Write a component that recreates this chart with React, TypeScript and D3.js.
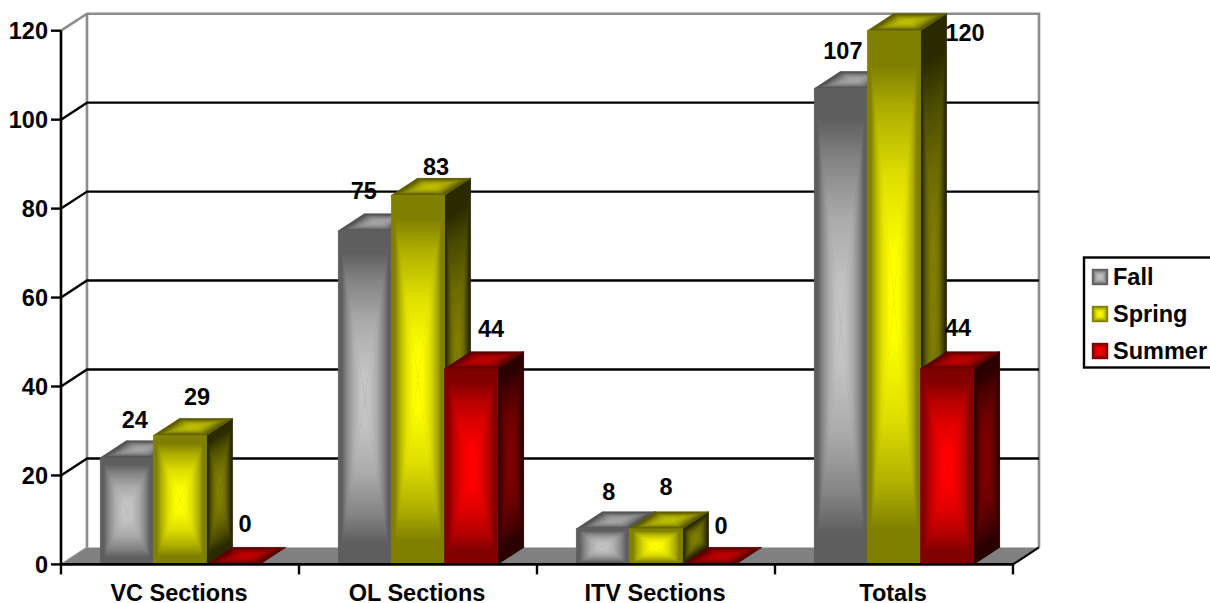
import React from "react";
import * as d3 from "d3";

const categories = ["VC Sections", "OL Sections", "ITV Sections", "Totals"];
const seriesNames = ["Fall", "Spring", "Summer"];
const fall = [24, 75, 8, 107];
const spring = [29, 83, 8, 120];
const summer = [0, 44, 0, 44];
const yTicks = [0, 20, 40, 60, 80, 100, 120];

const seriesValues = [fall, spring, summer];
const palette = [
  { front: ["#5e5e5e", "#c4c4c4"], side: ["#2a2a2a", "#808080"], top: ["#555555", "#a6a6a6"] },
  { front: ["#808000", "#ffff00"], side: ["#2a2a00", "#808000"], top: ["#5e5e00", "#c0c000"] },
  { front: ["#800000", "#ff0000"], side: ["#2a0000", "#800000"], top: ["#5e0000", "#c00000"] },
];
// hand-read nudges of each value label from the top-centre of its bar's top face
const labelNudge: [number, number][][] = [
  [[-5, -12.7], [-14, -14.5], [-7, -12], [-11, -12.4]],
  [[4, -13.5], [5, -3], [-3, -17], [58, 27.5]],
  [[-1, -15.5], [7, -14.5], [-1, -13.5], [-2, -15.5]],
];
// position along the edge-to-centre run, and how far the colour has moved by then
const rampStops: [number, number][] = [[0.13, 0], [0.3, 0.37], [0.55, 0.75], [0.85, 1]];

const FONT = "'Liberation Sans', Arial, sans-serif";
const DX = 26;
const DY = -17;

type P = [number, number];

function Face({ id, pts, colors }: { id: string; pts: P[]; colors: string[] }) {
  const cx = d3.mean(pts, (p) => p[0])!;
  const cy = d3.mean(pts, (p) => p[1])!;
  const path = d3.line();
  const mix = d3.interpolateRgb(colors[0], colors[1]);
  return (
    <g>
      <path d={path(pts)! + "Z"} fill={colors[0]} />
      {pts.map((a, i) => {
        const b = pts[(i + 1) % pts.length];
        const ex = b[0] - a[0];
        const ey = b[1] - a[1];
        const t = ((cx - a[0]) * ex + (cy - a[1]) * ey) / (ex * ex + ey * ey);
        const fx = a[0] + t * ex;
        const fy = a[1] + t * ey;
        const gid = `${id}-${i}`;
        return (
          <g key={i}>
            <linearGradient id={gid} gradientUnits="userSpaceOnUse" x1={fx} y1={fy} x2={cx} y2={cy}>
              {rampStops.map(([o, f]) => (
                <stop key={o} offset={o} stopColor={mix(f)} />
              ))}
            </linearGradient>
            <path
              d={path([a, b, [cx, cy]])! + "Z"}
              fill={`url(#${gid})`}
              stroke={`url(#${gid})`}
              strokeWidth={0.4}
            />
          </g>
        );
      })}
    </g>
  );
}

export default function App() {
  const y = d3.scaleLinear().domain([0, 120]).range([564.4, 30.7]);
  const x0 = d3.scaleBand<string>().domain(categories).range([61, 1013]);
  const x1 = d3
    .scaleBand<string>()
    .domain(seriesNames)
    .range([0, x0.bandwidth()])
    .paddingInner(0)
    .paddingOuter(0.74);
  const bw = x1.bandwidth();
  const base = y(0);
  const left = x0.range()[0];
  const right = x0.range()[1];

  const bars = categories.flatMap((c, ci) =>
    seriesNames.map((s, si) => ({ c, ci, s, si, v: seriesValues[si][ci], x: x0(c)! + x1(s)! }))
  );
  return (
    <svg
      width={1210}
      height={603}
      style={{ position: "absolute", left: 0, top: 0, background: "#fff" }}
      fontFamily={FONT}
      fontWeight="bold"
    >
      {/* floor */}
      <path
        d={d3.line()([[left, base], [left + DX, base + DY], [right + DX, base + DY], [right, base]])! + "Z"}
        fill="#808080"
      />
      {/* walls */}
      <path
        d={d3.line()([
          [left, y(120)],
          [left + DX, y(120) + DY],
          [right + DX, y(120) + DY],
          [right + DX, base + DY],
        ])!}
        fill="none"
        stroke="#8c8c8c"
        strokeWidth={2.6}
      />
      <line x1={left + DX} x2={left + DX} y1={y(120) + DY} y2={base + DY} stroke="#8c8c8c" strokeWidth={2.6} />
      {/* gridlines */}
      {yTicks
        .filter((t) => t > 0 && t < 120)
        .map((t) => (
          <path
            key={t}
            d={d3.line()([[left, y(t)], [left + DX, y(t) + DY], [right + DX, y(t) + DY]])!}
            fill="none"
            stroke="#000"
            strokeWidth={2.4}
          />
        ))}
      <path
        d={d3.line()([[left, base], [left + DX, base + DY]])!}
        stroke="#8c8c8c"
        strokeWidth={1.4}
      />
      {/* bars */}
      {bars.map((b) => {
        const top = y(b.v);
        const colors = palette[b.si];
        const id = `b${b.ci}-${b.si}`;
        return (
          <g key={id}>
            {b.v > 0 && (
              <Face
                id={id + "s"}
                pts={[[b.x + bw, top], [b.x + bw + DX, top + DY], [b.x + bw + DX, base + DY], [b.x + bw, base]]}
                colors={colors.side}
              />
            )}
            <Face
              id={id + "t"}
              pts={[[b.x, top], [b.x + DX, top + DY], [b.x + bw + DX, top + DY], [b.x + bw, top]]}
              colors={colors.top}
            />
            {b.v > 0 && (
              <Face
                id={id + "f"}
                pts={[[b.x, top], [b.x + bw, top], [b.x + bw, base], [b.x, base]]}
                colors={colors.front}
              />
            )}
          </g>
        );
      })}
      {/* axes */}
      <line x1={left} x2={left} y1={y(120)} y2={base} stroke="#000" strokeWidth={2.6} />
      <line x1={left} x2={right} y1={base} y2={base} stroke="#000" strokeWidth={2.6} />
      <line x1={right} x2={right + DX} y1={base} y2={base + DY} stroke="#000" strokeWidth={2} />
      {yTicks.map((t) => (
        <g key={t}>
          <line x1={left - 10} x2={left} y1={y(t)} y2={y(t)} stroke="#000" strokeWidth={2.4} />
          <text x={48} y={y(t)} dy="0.36em" textAnchor="end" fontSize={23.5}>
            {t}
          </text>
        </g>
      ))}
      {[...categories.map((c) => x0(c)!), right].map((tx) => (
        <line key={tx} x1={tx} x2={tx} y1={base} y2={base + 10} stroke="#000" strokeWidth={2.4} />
      ))}
      {categories.map((c) => (
        <text key={c} x={x0(c)! + x0.bandwidth() / 2 - 1} y={601} textAnchor="middle" fontSize={23.5}>
          {c}
        </text>
      ))}
      {/* value labels */}
      {bars.map((b) => {
        const n = labelNudge[b.si][b.ci];
        return (
          <text
            key={`l${b.ci}-${b.si}`}
            x={b.x + bw / 2 + DX / 2 + n[0]}
            y={y(b.v) + DY + n[1]}
            textAnchor="middle"
            fontSize={23.5}
          >
            {b.v}
          </text>
        );
      })}
      {/* legend */}
      <rect x={1084} y={257.5} width={140} height={110} fill="#fff" stroke="#000" strokeWidth={2.4} />
      {seriesNames.map((s, i) => {
        const ly = 277 + i * 37;
        return (
          <g key={s}>
            <Face
              id={`lg${i}`}
              pts={[[1092, ly - 8], [1108, ly - 8], [1108, ly + 8], [1092, ly + 8]]}
              colors={palette[i].front}
            />
            <text x={1113} y={ly} dy="0.36em" fontSize={23.5}>
              {s}
            </text>
          </g>
        );
      })}
    </svg>
  );
}
